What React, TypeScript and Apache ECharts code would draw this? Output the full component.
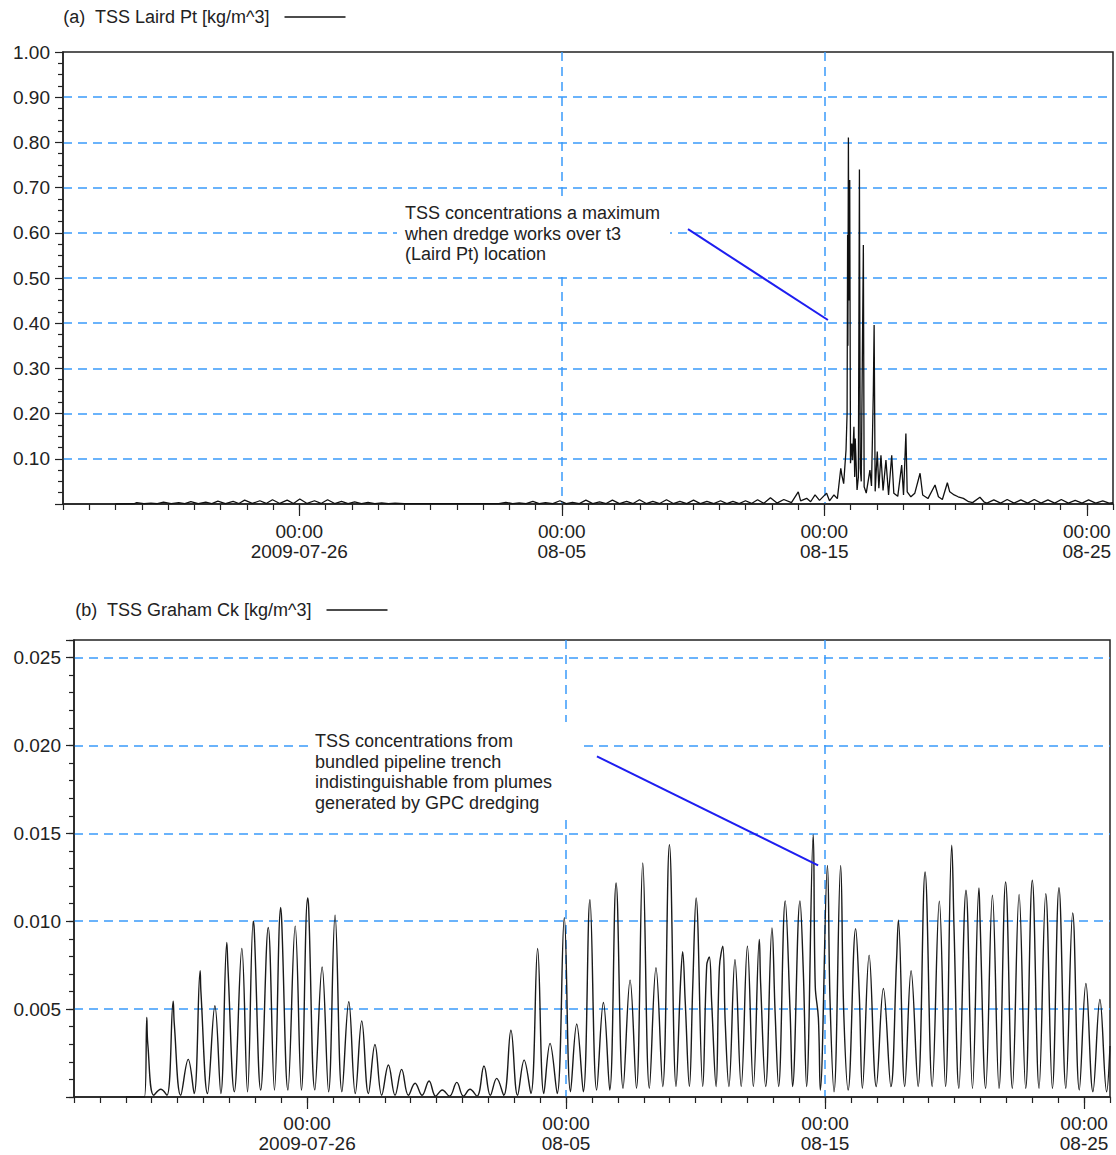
import React, { useEffect, useRef } from 'react';
import * as echarts from 'echarts';

const FONT = '"Liberation Sans", Arial, Helvetica, sans-serif';
const AXIS = '#222222';
const TEXT = '#222222';
const GRID_BLUE = '#3a9bfa';
const NOTE_BLUE = '#1e1ef0';

// x values are days since 2009-07-06 00:00 (07-26 = 20, 08-05 = 30, 08-15 = 40, 08-25 = 50)
const X_MIN = 11; // 2009-07-17 00:00
const X_MAX = 51; // 2009-08-26 00:00
const majorTickDays = [20, 30, 40, 50];
const majorTickLabels = ['00:00\n2009-07-26', '00:00\n08-05', '00:00\n08-15', '00:00\n08-25'];

const lairdTitle = '(a)\u00a0 TSS Laird Pt [kg/m^3]';
const grahamTitle = '(b)\u00a0 TSS Graham Ck [kg/m^3]';

const noteA = 'TSS concentrations a maximum\nwhen dredge works over t3\n(Laird Pt) location';
const noteB = 'TSS concentrations from\nbundled pipeline trench\nindistinguishable from plumes\ngenerated by GPC dredging';

// (a) TSS Laird Pt, [day, kg/m^3]
const lairdPoints: [number, number][] = [
  [13.00, 0.0000], [13.70, 0.0005], [13.81, 0.0030], [14.08, 0.0006], [14.35, 0.0018], [14.59, 0.0006],
  [14.83, 0.0040], [15.12, 0.0007], [15.41, 0.0030], [15.64, 0.0008], [15.87, 0.0055], [16.15, 0.0009],
  [16.44, 0.0042], [16.67, 0.0010], [16.90, 0.0065], [17.19, 0.0010], [17.48, 0.0060], [17.70, 0.0011],
  [17.92, 0.0085], [18.21, 0.0012], [18.50, 0.0072], [18.74, 0.0012], [18.98, 0.0095], [19.26, 0.0012],
  [19.54, 0.0085], [19.78, 0.0012], [20.02, 0.0110], [20.30, 0.0012], [20.58, 0.0072], [20.83, 0.0012],
  [21.08, 0.0095], [21.35, 0.0010], [21.61, 0.0060], [21.86, 0.0010], [22.11, 0.0048], [22.37, 0.0009],
  [22.62, 0.0035], [22.88, 0.0008], [23.14, 0.0024], [23.40, 0.0008], [23.65, 0.0018], [24.00, 0.0007],
  [25.00, 0.0007], [26.00, 0.0007], [27.00, 0.0007], [27.60, 0.0008], [27.87, 0.0035], [28.13, 0.0010],
  [28.38, 0.0024], [28.64, 0.0010], [28.90, 0.0060], [29.14, 0.0010], [29.38, 0.0030], [29.66, 0.0010],
  [29.93, 0.0072], [30.17, 0.0010], [30.41, 0.0036], [30.67, 0.0010], [30.92, 0.0085], [31.18, 0.0010],
  [31.44, 0.0048], [31.69, 0.0010], [31.93, 0.0085], [32.20, 0.0010], [32.47, 0.0060], [32.72, 0.0010],
  [32.96, 0.0095], [33.22, 0.0010], [33.47, 0.0060], [33.73, 0.0010], [33.99, 0.0095], [34.25, 0.0010],
  [34.50, 0.0060], [34.76, 0.0010], [35.02, 0.0085], [35.28, 0.0010], [35.53, 0.0060], [35.79, 0.0010],
  [36.05, 0.0072], [36.29, 0.0010], [36.52, 0.0060], [36.76, 0.0010], [37.00, 0.0072], [37.23, 0.0012],
  [37.46, 0.0095], [37.70, 0.0015], [37.95, 0.0140], [38.20, 0.0020], [38.46, 0.0100], [38.75, 0.0030],
  [39.01, 0.0270], [39.10, 0.0070], [39.33, 0.0125], [39.48, 0.0050], [39.65, 0.0200], [39.82, 0.0080],
  [40.09, 0.0240], [40.20, 0.0070], [40.37, 0.0200], [40.50, 0.0120], [40.63, 0.0790], [40.67, 0.0640],
  [40.74, 0.0450], [40.83, 0.1200], [40.87, 0.2000], [40.89, 0.5950], [40.90, 0.3500], [40.92, 0.8110],
  [40.94, 0.4500], [40.97, 0.7170], [41.00, 0.0900], [41.05, 0.1340], [41.08, 0.0970], [41.13, 0.1710],
  [41.16, 0.0600], [41.18, 0.1450], [41.25, 0.0310], [41.30, 0.0600], [41.34, 0.7400], [41.37, 0.0800],
  [41.41, 0.0500], [41.49, 0.5730], [41.52, 0.0380], [41.60, 0.0240], [41.74, 0.0750], [41.80, 0.0400],
  [41.87, 0.2500], [41.90, 0.3960], [41.94, 0.0280], [42.02, 0.1160], [42.08, 0.0350], [42.16, 0.1080],
  [42.24, 0.0300], [42.35, 0.0970], [42.45, 0.0200], [42.57, 0.1080], [42.65, 0.0240], [42.80, 0.0170],
  [42.95, 0.0860], [43.02, 0.0200], [43.11, 0.1560], [43.16, 0.0270], [43.30, 0.0160], [43.45, 0.0240],
  [43.65, 0.0680], [43.75, 0.0200], [43.95, 0.0120], [44.22, 0.0420], [44.35, 0.0160], [44.50, 0.0100],
  [44.69, 0.0470], [44.78, 0.0270], [44.95, 0.0200], [45.10, 0.0160], [45.30, 0.0125], [45.50, 0.0050],
  [45.65, 0.0030], [45.93, 0.0150], [46.10, 0.0040], [46.20, 0.0020], [46.46, 0.0090], [46.72, 0.0020],
  [46.97, 0.0100], [47.23, 0.0020], [47.49, 0.0090], [47.75, 0.0020], [48.00, 0.0100], [48.26, 0.0020],
  [48.52, 0.0090], [48.78, 0.0020], [49.03, 0.0100], [49.30, 0.0020], [49.56, 0.0080], [49.82, 0.0020],
  [50.07, 0.0090], [50.34, 0.0020], [50.61, 0.0070], [50.85, 0.0020], [51.00, 0.0030],
];

// (b) TSS Graham Ck: tidal peaks (day, value), troughs after each peak, extra plume/shoulder points
const grahamStart: [number, number][] = [[13.00, 0.0], [13.72, 0.0]];
const grahamPeakDays = [
  13.81, 14.35, 14.83, 15.41, 15.87, 16.44, 16.90, 17.48, 17.92, 18.50,
  18.98, 19.54, 20.02, 20.58, 21.08, 21.61, 22.11, 22.62, 23.14, 23.65,
  24.17, 24.71, 25.22, 25.78, 26.29, 26.83, 27.32, 27.87, 28.38, 28.90,
  29.38, 29.93, 30.41, 30.92, 31.44, 31.93, 32.47, 32.96, 33.47, 33.99,
  34.50, 35.02, 35.53, 36.05, 36.52, 37.00, 37.46, 37.95, 38.46, 39.03,
  39.54, 40.09, 40.60, 41.18, 41.70, 42.25, 42.83, 43.32, 43.86, 44.41,
  44.89, 45.44, 45.94, 46.46, 46.97, 47.49, 48.00, 48.52, 49.03, 49.56,
  50.07, 50.61,
];
const grahamPeakValues = [
  0.00453, 0.00044, 0.00545, 0.00214, 0.00718, 0.00519, 0.00879, 0.00845, 0.01000, 0.00964,
  0.01078, 0.00972, 0.01133, 0.00740, 0.01034, 0.00542, 0.00432, 0.00299, 0.00182, 0.00157,
  0.00078, 0.00091, 0.00040, 0.00083, 0.00044, 0.00176, 0.00106, 0.00380, 0.00210, 0.00845,
  0.00305, 0.01020, 0.00415, 0.01123, 0.00538, 0.01218, 0.00665, 0.01331, 0.00735, 0.01436,
  0.00826, 0.01133, 0.00797, 0.00858, 0.00782, 0.00858, 0.00896, 0.00962, 0.01116, 0.01116,
  0.01492, 0.01318, 0.01318, 0.00958, 0.00807, 0.00617, 0.01006, 0.00718, 0.01280, 0.01114,
  0.01432, 0.01176, 0.01189, 0.01148, 0.01223, 0.01153, 0.01233, 0.01157, 0.01191, 0.01047,
  0.00646, 0.00555,
];
const grahamTroughValues = [
  0.00010, 0.00010, 0.00010, 0.00020, 0.00020, 0.00020, 0.00030, 0.00030, 0.00040, 0.00040,
  0.00040, 0.00040, 0.00040, 0.00030, 0.00030, 0.00020, 0.00020, 0.00010, 0.00010, 0.00010,
  0.00010, 0.00005, 0.00005, 0.00005, 0.00005, 0.00010, 0.00010, 0.00010, 0.00020, 0.00020,
  0.00020, 0.00030, 0.00030, 0.00040, 0.00040, 0.00050, 0.00050, 0.00050, 0.00060, 0.00060,
  0.00060, 0.00060, 0.00060, 0.00060, 0.00060, 0.00060, 0.00060, 0.00060, 0.00060, 0.00060,
  0.00040, 0.00030, 0.00040, 0.00050, 0.00060, 0.00060, 0.00060, 0.00060, 0.00060, 0.00060,
  0.00050, 0.00050, 0.00050, 0.00050, 0.00050, 0.00050, 0.00050, 0.00050, 0.00050, 0.00040,
  0.00030, 0.00030,
];
const grahamNextPeakDay = 51.13;
const grahamEnd: [number, number][] = [[51.00, 0.0029]];
const grahamPlumes: [number, number][] = [
  [13.85, 0.0030], [14.87, 0.0042], [15.90, 0.0060], [16.94, 0.0075], [17.96, 0.0095], [19.02, 0.0100],
  [20.06, 0.0108], [34.42, 0.0066], [34.60, 0.0054], [34.89, 0.0063], [35.43, 0.0075], [35.62, 0.0054],
  [35.92, 0.0074], [36.14, 0.0044], [37.51, 0.0065], [38.07, 0.0048], [38.65, 0.0048], [39.16, 0.0071],
  [39.62, 0.0063], [39.74, 0.0045], [40.19, 0.0055], [40.72, 0.0048], [41.32, 0.0058], [42.76, 0.0078],
  [44.98, 0.0095], [45.98, 0.0102],
];

// annotation leader lines, data coordinates [day, value]
const noteALine: [number, number][] = [[34.81, 0.608], [40.14, 0.407]];
const noteBLine: [number, number][] = [[31.19, 0.01938], [39.73, 0.01318]];

function buildGraham(): [number, number][] {
  const pts: [number, number][] = [...grahamStart];
  for (let i = 0; i < grahamPeakDays.length; i++) {
    pts.push([grahamPeakDays[i], grahamPeakValues[i]]);
    const next = i + 1 < grahamPeakDays.length ? grahamPeakDays[i + 1] : grahamNextPeakDay;
    pts.push([(grahamPeakDays[i] + next) / 2, grahamTroughValues[i]]);
  }
  pts.push(...grahamEnd, ...grahamPlumes);
  pts.sort((a, b) => a[0] - b[0]);
  return pts.filter((p) => p[0] <= X_MAX);
}

const gridLine = {
  show: true,
  showMinLine: false,
  showMaxLine: false,
  lineStyle: { color: GRID_BLUE, width: 1.5, type: [9, 6] as number[] },
};

function minorXAxis(gridIndex: number) {
  return {
    type: 'value',
    gridIndex,
    position: 'bottom',
    min: X_MIN,
    max: X_MAX,
    interval: 1,
    axisLine: { show: true, onZero: false, lineStyle: { color: AXIS, width: 1.5 } },
    axisTick: { show: true, length: 6, lineStyle: { color: AXIS, width: 1.2 } },
    axisLabel: { show: false },
    splitLine: { show: false },
  };
}

function majorXAxis(gridIndex: number, margin: number) {
  return {
    type: 'value',
    gridIndex,
    position: 'bottom',
    min: X_MIN,
    max: X_MAX,
    axisLine: { show: false, onZero: false },
    axisTick: { show: true, length: 12, customValues: majorTickDays, lineStyle: { color: AXIS, width: 1.2 } },
    axisLabel: {
      show: true,
      customValues: majorTickDays,
      formatter: (v: number) => {
        const i = majorTickDays.indexOf(Math.round(v));
        return i >= 0 ? majorTickLabels[i] : '';
      },
      fontSize: 19,
      lineHeight: 20,
      fontFamily: FONT,
      color: TEXT,
      margin,
    },
    splitLine: gridLine,
  };
}

function legendFor(name: string, left: number, top: number) {
  return {
    data: [name],
    left,
    top,
    padding: 0,
    align: 'right',
    icon: 'rect',
    itemWidth: 61,
    itemHeight: 1.5,
    selectedMode: false,
    textStyle: { fontSize: 18, fontFamily: FONT, color: TEXT, padding: [0, 10, 0, 0] },
  };
}

function buildOption() {
  return {
    animation: false,
    backgroundColor: '#ffffff',
    textStyle: { fontFamily: FONT },
    grid: [
      { left: 63, top: 52, width: 1050, height: 452, show: true, borderColor: AXIS, borderWidth: 1.5, backgroundColor: 'transparent', outerBoundsMode: 'none', containLabel: false },
      { left: 74, top: 640, width: 1036, height: 457, show: true, borderColor: AXIS, borderWidth: 1.5, backgroundColor: 'transparent', outerBoundsMode: 'none', containLabel: false },
    ],
    legend: [legendFor(lairdTitle, 63, 8), legendFor(grahamTitle, 75, 601)],
    xAxis: [minorXAxis(0), majorXAxis(0, 17), minorXAxis(1), majorXAxis(1, 16)],
    yAxis: [
      {
        type: 'value',
        gridIndex: 0,
        position: 'left',
        min: 0,
        max: 1,
        interval: 0.1,
        axisLine: { show: true, onZero: false, lineStyle: { color: AXIS, width: 1.5 } },
        axisTick: { show: true, length: 8, lineStyle: { color: AXIS, width: 1.2 } },
        minorTick: { show: true, splitNumber: 4, length: 5, lineStyle: { color: AXIS, width: 1.2 } },
        axisLabel: {
          formatter: (v: number) => (v < 1e-9 ? '' : v.toFixed(2)),
          fontSize: 19,
          fontFamily: FONT,
          color: TEXT,
          margin: 13,
        },
        splitLine: gridLine,
      },
      {
        type: 'value',
        gridIndex: 1,
        position: 'left',
        min: 0,
        max: 0.026,
        interval: 0.005,
        axisLine: { show: true, onZero: false, lineStyle: { color: AXIS, width: 1.5 } },
        axisTick: { show: true, length: 8, lineStyle: { color: AXIS, width: 1.2 } },
        axisLabel: {
          formatter: (v: number) => (v < 1e-9 || v > 0.0255 ? '' : v.toFixed(3)),
          fontSize: 19,
          fontFamily: FONT,
          color: TEXT,
          margin: 13,
        },
        splitLine: gridLine,
      },
      {
        type: 'value',
        gridIndex: 1,
        position: 'left',
        min: 0,
        max: 0.026,
        interval: 0.001,
        axisLine: { show: false, onZero: false },
        axisTick: { show: true, length: 5, lineStyle: { color: AXIS, width: 1.2 } },
        axisLabel: { show: false },
        splitLine: { show: false },
      },
    ],
    series: [
      {
        type: 'line',
        name: lairdTitle,
        xAxisIndex: 0,
        yAxisIndex: 0,
        data: lairdPoints,
        symbol: 'none',
        showSymbol: false,
        color: '#111111',
        lineStyle: { color: '#111111', width: 1.3 },
        markLine: {
          silent: true,
          symbol: ['none', 'none'],
          label: { show: false },
          lineStyle: { color: NOTE_BLUE, width: 2, type: 'solid' },
          data: [[{ coord: noteALine[0] }, { coord: noteALine[1] }]],
        },
      },
      {
        type: 'line',
        name: grahamTitle,
        xAxisIndex: 2,
        yAxisIndex: 1,
        data: buildGraham(),
        symbol: 'none',
        showSymbol: false,
        smooth: 0.4,
        color: '#111111',
        lineStyle: { color: '#1a1a1a', width: 1.4 },
        markLine: {
          silent: true,
          symbol: ['none', 'none'],
          label: { show: false },
          lineStyle: { color: NOTE_BLUE, width: 2, type: 'solid' },
          data: [[{ coord: noteBLine[0] }, { coord: noteBLine[1] }]],
        },
      },
    ],
    graphic: [
      { type: 'rect', z: 20, silent: true, shape: { x: 397, y: 197, width: 273, height: 76 }, style: { fill: '#ffffff' } },
      {
        type: 'text', z: 21, silent: true, x: 405, y: 203,
        style: { text: noteA, fontSize: 18, fontFamily: FONT, fill: TEXT, lineHeight: 20.5, verticalAlign: 'top', align: 'left' },
      },
      { type: 'rect', z: 20, silent: true, shape: { x: 308, y: 722, width: 272, height: 93 }, style: { fill: '#ffffff' } },
      {
        type: 'text', z: 21, silent: true, x: 315, y: 731,
        style: { text: noteB, fontSize: 18, fontFamily: FONT, fill: TEXT, lineHeight: 20.5, verticalAlign: 'top', align: 'left' },
      },
    ],
  };
}

export default function App() {
  const ref = useRef<HTMLDivElement>(null);
  useEffect(() => {
    if (!ref.current) return;
    const chart = echarts.init(ref.current, undefined, { renderer: 'svg' });
    chart.setOption(buildOption() as any);
    return () => chart.dispose();
  }, []);
  return (
    <div
      ref={ref}
      style={{ position: 'absolute', left: 0, top: 0, width: 1116, height: 1155, background: '#ffffff' }}
    />
  );
}
